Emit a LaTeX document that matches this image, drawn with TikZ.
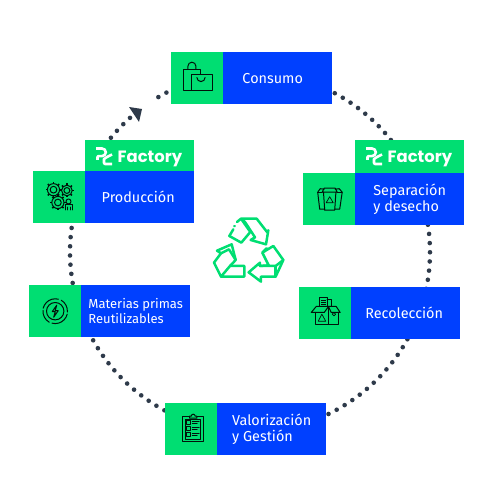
\documentclass[tikz,border=0pt]{standalone}
\usepackage{fontspec}
\setmainfont{Fira Sans}
\newfontfamily\logofont{Poppins}
\usetikzlibrary{calc}
\definecolor{gr}{HTML}{00DE72}
\definecolor{bl}{HTML}{0040FF}
\definecolor{dk}{HTML}{2E3A4A}
\tikzset{
 x=1pt,y=1pt,
 greenbox/.style={fill=gr,minimum width=52pt,minimum height=52pt,inner sep=0pt,anchor=north west},
 bluebox/.style={fill=bl,text=white,minimum width=109pt,minimum height=52pt,inner sep=0pt,anchor=north west,align=left,font=\fontsize{14.4}{16.5}\selectfont},
 logobox/.style={fill=gr,minimum width=109pt,inner sep=0pt,anchor=south west},
 logotext/.style={text=white,font=\logofont\fontsize{16.4}{18}\selectfont\bfseries,anchor=base west,inner sep=0pt},
 dotline/.style={draw=dk,line width=4.6pt,line cap=round,dash pattern=on 0pt off 9.2pt},
 ico/.style={draw=black!92!gr,line width=1pt,line join=round,line cap=round},
 rec/.style={draw=gr,line width=2.5pt,line join=round,line cap=round},
}
\newcommand{\logoglyph}[1]{%
 \begin{scope}[shift={#1}]
  \draw[white,line width=2.6pt,line join=round] (0.2,11.5) -- (6,11.5) arc[start angle=90,end angle=-90,radius=3.8] -- (2.5,3.9) -- (1.5,3) -- (1.5,0);
  \draw[white,line width=2.6pt,line join=round] (16,5.5) -- (11,3) -- (8,1) -- (8,-3) -- (9,-4) -- (16,-4);
 \end{scope}}
\newcommand{\gearicon}[2]{%
 \draw[ico] #1 circle[radius=#2*.76] circle[radius=#2*.42];
 \foreach \a in {0,45,...,315}{\draw[ico,line width=1.6pt,line cap=butt] #1 ++(\a:#2*.76) -- ++(\a:#2*.24);}}
\begin{document}
\begin{tikzpicture}
\useasboundingbox (0,0) rectangle (500,500);
\coordinate (ctr) at (250,248);
\def\R{180}
% named ends of the dotted arcs
\coordinate (p1) at ($(ctr)+(140.6:\R)$);
\coordinate (p2) at ($(ctr)+(120.6:\R)$);
\coordinate (p3) at ($(ctr)+(61.9:\R)$);
\coordinate (p4) at ($(ctr)+(8.7:\R)$);
\coordinate (p5) at ($(ctr)+(-29:\R)$);
\coordinate (p6) at ($(ctr)+(241.6:\R)$);
\coordinate (p7) at ($(ctr)+(189.9:\R)$);
\draw[dotline] (p1) arc[start angle=140.6,end angle=131.5,radius=\R];
\draw[dotline] (p2) arc[start angle=120.6,end angle=115,radius=\R];
\draw[dotline] (p3) arc[start angle=61.9,end angle=38,radius=\R];
\draw[dotline] (p4) arc[start angle=8.7,end angle=-12,radius=\R];
\draw[dotline] (p5) arc[start angle=-29,end angle=-65,radius=\R];
\draw[dotline] (p6) arc[start angle=241.6,end angle=208,radius=\R];
\draw[dotline] (p7) arc[start angle=189.9,end angle=170,radius=\R];
\fill[dk] (129,393) -- (142,391) -- (139,378) -- cycle;
% boxes
\node[greenbox] (g1) at (171,448) {};
\node[bluebox]  (b1) at (223,448) {Consumo\hspace*{10pt}};
\node[greenbox] (g2) at (303,327) {};
\node[bluebox]  (b2) at (355,327) {Separación\\y desecho};
\node[greenbox] (g3) at (299,213) {};
\node[bluebox]  (b3) at (351,213) {Recolección\hspace*{3pt}};
\node[greenbox] (g4) at (165,97) {};
\node[bluebox]  (b4) at (217,97) {Valorización\\y Gestión};
\node[greenbox] (g5) at (29,215) {};
\node[bluebox,font=\fontsize{13}{15}\selectfont]  (b5) at (81,215) {Materias primas\\Reutilizables};
\node[greenbox] (g6) at (33,329) {};
\node[bluebox]  (b6) at (85,329) {Producción\hspace*{3pt}};
\node[logobox,minimum height=31pt] (l6) at (85,329) {};
\node[logobox,minimum height=33pt] (l2) at (355,327) {};
\node[logotext] (t6) at (117.5,337.7) {Factory};
\node[logotext] (t2) at (387.5,337.7) {Factory};
\logoglyph{(96,340)}
\logoglyph{(366,340)}
% bag icon
\begin{scope}[shift={(g1.center)}]
 \draw[ico] (-5.7,-12.7) -- (-13.7,-12.7) -- (-13.7,9) -- (3.7,9) -- (3.7,3.7);
 \draw[ico] (-9.3,9) -- (-9.3,12) arc[start angle=180,end angle=0,radius=4] -- (-1.3,9);
 \draw[ico] (-5.7,-12.7) rectangle (15,3.7);
 \draw[ico] (-0.3,0.7) arc[start angle=180,end angle=360,radius=4.1];
\end{scope}
% gears
\begin{scope}[shift={(g6.center)}]
 \gearicon{(-5.7,7.5)}{8}
 \gearicon{(7.7,6.7)}{7}
 \gearicon{(-1.3,-5.3)}{8}
 \draw[ico] (9.3,-4.3) circle[radius=2.5];
 \draw[ico] (6,-12.7) -- (6,-7.5) -- (13,-7.5) -- (13,-12.7) (8,-12.7) -- (8,-10) (11,-12.7) -- (11,-10);
\end{scope}
% bins
\begin{scope}[shift={(g2.center)}]
 \draw[ico] (-5.7,7) -- (-4.5,-11) -- (5.5,-11) -- (6.7,7);
 \draw[ico] (-7,7) -- (8,7) -- (6,11) -- (-5,11) -- cycle;
 \draw[ico] (-5,10) -- (-9,10.5) -- (-11.5,7) -- (-9.5,-10) -- (-5,-10);
 \draw[ico] (-11.5,7) -- (-7,7);
 \draw[ico] (6,10) -- (10,10.5) -- (13,7) -- (10.5,-10) -- (5.5,-10);
 \draw[ico] (13,7) -- (8,7);
 \draw[ico,line width=.7pt] (0.5,2.5) -- (-3,-3.5) -- (4,-3.5) -- cycle;
\end{scope}
% box
\begin{scope}[shift={(g3.center)}]
 \draw[ico] (-9.7,.7) -- (-9.7,-11) -- (13.3,-11) -- (13.3,.7);
 \draw[ico] (3.3,6.7) -- (3.3,-11);
 \draw[ico] (-14,.7) -- (-9,6.7) -- (3.3,6.7) -- (-1,.7) -- cycle;
 \draw[ico] (3.3,6.7) -- (11,6.7) -- (15,.7) -- (6,.7) -- cycle;
 \draw[ico] (-5.7,6.7) -- (-5.7,15.7) -- (2,15.7) -- (2,6.7);
 \draw[ico] (2,13.5) -- (6.7,13.5) -- (6.7,6.7);
 \draw[ico,line width=.6pt] (-4,13) -- (.5,13) (-4,11) -- (.5,11) (-4,9) -- (.5,9);
 \draw[ico,line width=.7pt] (-3.3,-1) -- (-7,-8) -- (.5,-8) -- cycle;
 \draw[ico,line width=.7pt] (8.7,-1) circle[radius=1.7];
\end{scope}
% lightning
\begin{scope}[shift={(g5.center)}]
 \draw[ico] (0,0) circle[radius=8.7];
 \draw[ico] (-12,3) arc[start angle=166,end angle=75,radius=12.4];
 \draw[ico] (6,11) arc[start angle=60,end angle=-5,radius=12.4];
 \draw[ico] (12,-3) arc[start angle=-14,end angle=-105,radius=12.4];
 \draw[ico] (-6,-11) arc[start angle=240,end angle=175,radius=12.4];
 \draw[ico] (1.5,6) -- (-3,-.5) -- (0,-.5) -- (-1.5,-6) -- (3,.5) -- (0,.5) -- cycle;
\end{scope}
% clipboard
\begin{scope}[shift={(g4.center)}]
 \draw[ico] (-8.7,-12.7) rectangle (12.3,13);
 \draw[ico] (-5.7,-10) rectangle (9.3,10);
 \draw[ico,fill=gr] (-1.7,11) -- (-1.7,13) -- (0,13) arc[start angle=180,end angle=0,radius=2] -- (5.7,13) -- (5.7,11) -- cycle;
 \foreach \yy in {6.5,.5,-5.5}{
  \draw[ico,line width=.7pt] (-4.5,\yy-1.5) rectangle (-1,\yy+2);
  \draw[ico,line width=.8pt] (1,\yy+1) -- (8,\yy+1);
  \draw[ico,line width=.7pt] (1,\yy-1) -- (6,\yy-1);
 }
\end{scope}
% recycle symbol
\begin{scope}[shift={(205,290)},x=.3333pt,y=-.3333pt]
 \draw[rec] (96,36) -- (108,26) -- (155,26) -- (186,66) -- (190,61) -- (183,103) -- (137,90) -- (150,82) -- (120,36) -- (108,26) -- (136,66) -- (109,98) -- (73,78) -- (85,58);
 \draw[rec] (88,49) -- (89,48);
 \draw[rec] (185,115) -- (172,128) -- (191,166) -- (165,168) -- (165,158) -- (131,187) -- (168,215) -- (168,200) -- (212,200) -- (235,150) -- (205,108) -- (172,128);
 \draw[rec] (165,168) -- (212,168) -- (235,150);
 \draw[rec] (212,168) -- (212,200);
 \draw[rec] (92,150) -- (80,103) -- (36,122) -- (48,130) -- (27,158) -- (48,200) -- (118,200) -- (118,168) -- (75,168) -- (48,200);
 \draw[rec] (75,168) -- (92,150) -- (72,118) -- (48,130);
\end{scope}
\end{tikzpicture}
\end{document}
